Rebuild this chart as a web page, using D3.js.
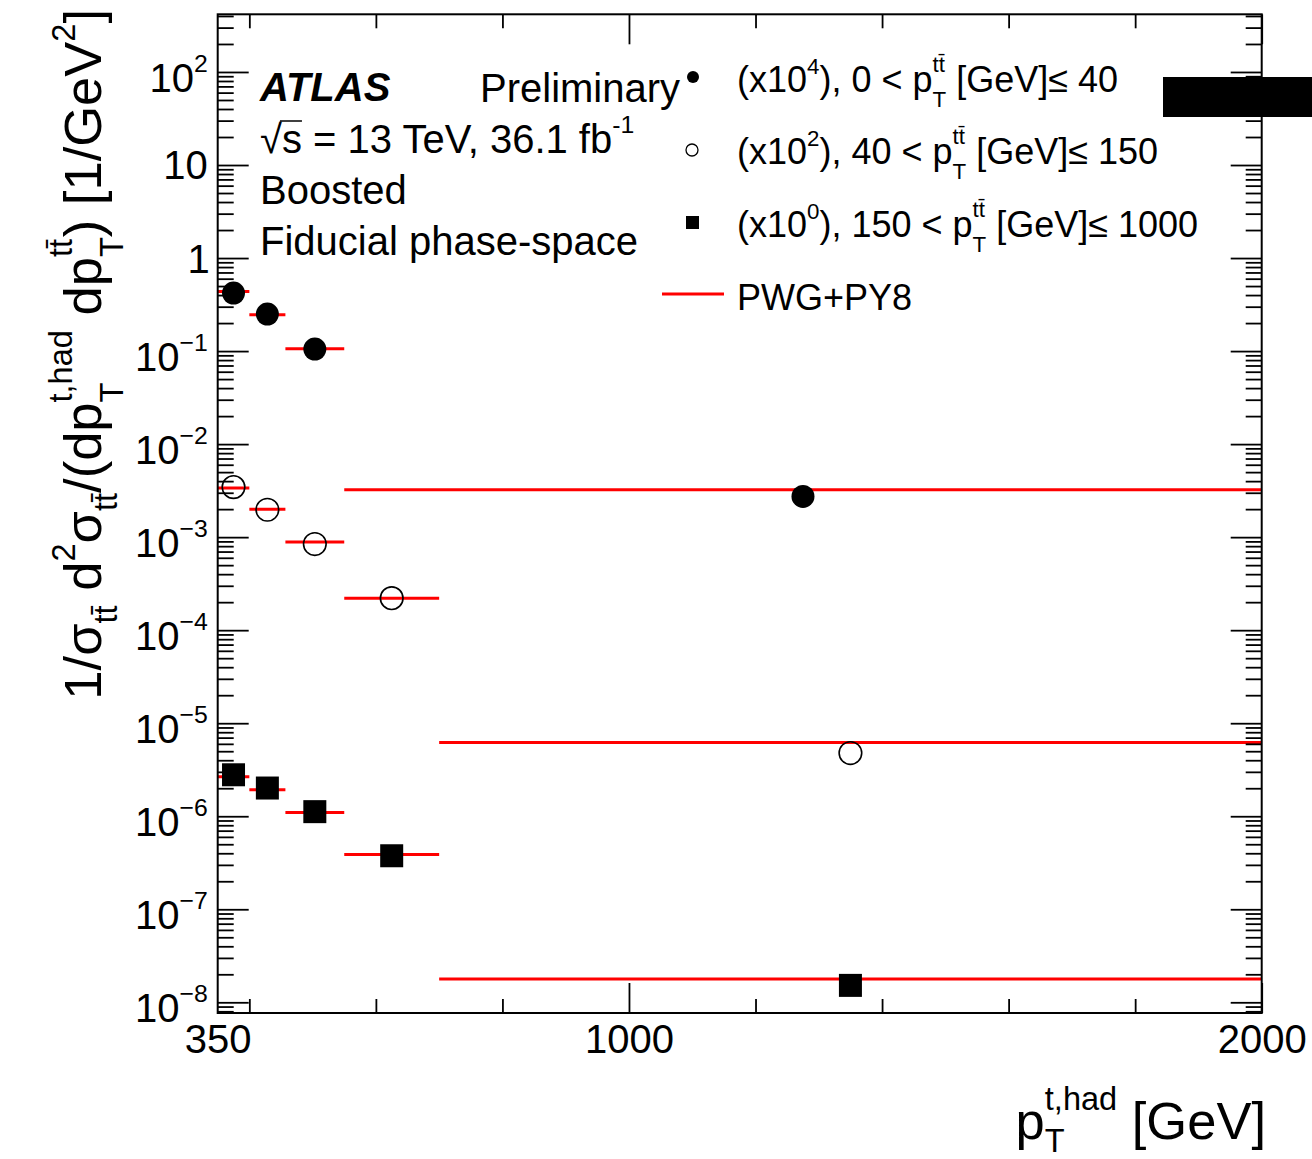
<!DOCTYPE html>
<html>
<head>
<meta charset="utf-8">
<script src="https://cdn.jsdelivr.net/npm/d3@7"></script>
<style>
  body { margin: 0; background: #fff; }
  svg { display: block; font-family: "Liberation Sans", Arial, Helvetica, sans-serif; }
  text { white-space: pre; }
</style>
</head>
<body>
<svg id="chart"></svg>
<script>
// bin edges in pT(t,had) [GeV], one set per pT(ttbar) slice
const edgesLow = [350, 400, 457, 550, 2000]
const edgesMid = [350, 400, 457, 550, 700, 2000]
const edgesHigh = [350, 400, 457, 550, 700, 2000]
const scaleFactors = [1e4, 1e2, 1]

// measured (data) and PWG+PY8 prediction, unscaled [1/GeV^2]
const dataLow = [4.2e-5, 2.5e-5, 1.05e-5, 2.74e-7]
const modelLow = [4.37e-5, 2.46e-5, 1.06e-5, 3.23e-7]
const dataMid = [3.45e-5, 1.97e-5, 8.43e-6, 2.21e-6, 4.78e-8]
const modelMid = [3.37e-5, 2.0e-5, 8.85e-6, 2.21e-6, 6.2e-8]
const dataHigh = [2.79e-6, 2.01e-6, 1.12e-6, 3.76e-7, 1.52e-8]
const modelHigh = [2.66e-6, 1.93e-6, 1.10e-6, 3.88e-7, 1.78e-8]

// axis ticks
const xLabels = [350, 1000, 2000]
const xMajor = [1000, 2000]
const xMinor = [400, 600, 800, 1200, 1400, 1600, 1800]
const yDecades = [-8, -7, -6, -5, -4, -3, -2, -1, 0, 1, 2]

const width = 1312, height = 1159
const margin = { top: 14.3, right: 50.3, bottom: 146, left: 217.7 }
const w = width - margin.left - margin.right
const h = height - margin.top - margin.bottom

const svg = d3.select('#chart').attr('width', width).attr('height', height)
const chart = svg.append('g').attr('transform', `translate(${margin.left},${margin.top})`)

const x = d3.scaleLinear().domain([350, 2000]).range([0, w])
const y = d3.scaleLog().domain([Math.pow(10, -8.115), Math.pow(10, 2.62)]).range([h, 0])

// text with super/subscripts, laid out by measuring each piece
const kinds = {
  n: { fs: 1, dy: 0 },
  sup: { fs: 0.62, dy: -0.5 },
  sub: { fs: 0.62, dy: 0.3 },
  ssub: { fs: 0.62, dy: 0.42 },
  ssubx: { fs: 0.62, dy: 0.25 },
  ssup: { fs: 0.62, dy: -0.55 }
}
function rich(parent, px, py, segs, size, opt = {}) {
  const g = parent.append('g').attr('transform', `translate(${px},${py}) rotate(${opt.rotate || 0})`)
  const inner = g.append('g')
  const t = inner.append('text').style('font-size', size + 'px').attr('fill', '#000')
  if (opt.weight) t.style('font-weight', opt.weight)
  if (opt.italic) t.style('font-style', 'italic')
  let cx = 0, stackX = 0
  segs.forEach(([str, kind, over]) => {
    const k = kinds[kind || 'n']
    const x0 = kind === 'ssup' ? stackX : cx
    const el = t.append('tspan')
      .attr('x', x0).attr('y', size * k.dy)
      .style('font-size', size * k.fs + 'px')
      .text(str)
    const len = el.node().getComputedTextLength()
    if (over) {
      inner.append('line')
        .attr('x1', x0 - 2).attr('x2', x0 + len)
        .attr('y1', -size * 0.8).attr('y2', -size * 0.8)
        .attr('stroke', '#000').attr('stroke-width', 1.5)
    }
    if (kind === 'ssub' || kind === 'ssubx') { stackX = cx; cx += len }
    else if (kind === 'ssup') cx = Math.max(cx, stackX + len)
    else cx += len
  })
  const shift = opt.anchor === 'end' ? -cx : opt.anchor === 'middle' ? -cx / 2 : 0
  inner.attr('transform', `translate(${shift},0)`)
  return cx
}

// ---- series ----
const series = [
  { edges: edgesLow, data: dataLow, model: modelLow, scale: scaleFactors[0], marker: 'dot' },
  { edges: edgesMid, data: dataMid, model: modelMid, scale: scaleFactors[1], marker: 'ring' },
  { edges: edgesHigh, data: dataHigh, model: modelHigh, scale: scaleFactors[2], marker: 'square' }
]

const lines = chart.append('g').attr('class', 'model')
series.forEach(s => {
  lines.selectAll(null)
    .data(s.model.map((v, i) => ({ x0: s.edges[i], x1: s.edges[i + 1], v: v * s.scale })))
    .enter().append('line')
    .attr('x1', d => x(d.x0)).attr('x2', d => x(d.x1))
    .attr('y1', d => y(d.v)).attr('y2', d => y(d.v))
    .attr('stroke', '#ff0000').attr('stroke-width', 3)
})

const pts = chart.append('g').attr('class', 'data')
series.forEach(s => {
  const d = s.data.map((v, i) => ({ cx: x((s.edges[i] + s.edges[i + 1]) / 2), cy: y(v * s.scale) }))
  if (s.marker === 'square') {
    pts.selectAll(null).data(d).enter().append('rect')
      .attr('x', p => p.cx - 11.5).attr('y', p => p.cy - 11.5)
      .attr('width', 23).attr('height', 23).attr('fill', '#000')
  } else {
    pts.selectAll(null).data(d).enter().append('circle')
      .attr('cx', p => p.cx).attr('cy', p => p.cy)
      .attr('r', s.marker === 'dot' ? 11.5 : 11.3)
      .attr('fill', s.marker === 'dot' ? '#000' : 'none')
      .attr('stroke', '#000').attr('stroke-width', s.marker === 'dot' ? 0 : 1.6)
  }
})

// ---- axes (ROOT style, ticks pointing inward) ----
const yMinor = []
yDecades.concat([-9]).forEach(n => {
  for (let m = 2; m <= 9; m++) {
    const v = m * Math.pow(10, n)
    if (v > y.domain()[0] && v < y.domain()[1]) yMinor.push(v)
  }
})
const yMajor = yDecades.map(n => Math.pow(10, n))

function tickAxis(axis, tr) {
  const g = chart.append('g').attr('transform', tr || null).call(axis)
  g.select('.domain').remove()
  g.selectAll('.tick line').attr('stroke', '#000').attr('stroke-width', 1.8)
  return g
}
tickAxis(d3.axisBottom(x).tickValues(xMinor).tickSizeInner(-14).tickSizeOuter(0).tickFormat(''), `translate(0,${h})`)
tickAxis(d3.axisBottom(x).tickValues(xMajor).tickSizeInner(-30).tickSizeOuter(0).tickFormat(''), `translate(0,${h})`)
tickAxis(d3.axisTop(x).tickValues(xMinor).tickSizeInner(-14).tickSizeOuter(0).tickFormat(''))
tickAxis(d3.axisTop(x).tickValues(xMajor).tickSizeInner(-30).tickSizeOuter(0).tickFormat(''))
tickAxis(d3.axisLeft(y).tickValues(yMinor).tickSizeInner(-16).tickSizeOuter(0).tickFormat(''))
tickAxis(d3.axisLeft(y).tickValues(yMajor).tickSizeInner(-31).tickSizeOuter(0).tickFormat(''))
tickAxis(d3.axisRight(y).tickValues(yMinor).tickSizeInner(-16).tickSizeOuter(0).tickFormat(''), `translate(${w},0)`)
tickAxis(d3.axisRight(y).tickValues(yMajor).tickSizeInner(-31).tickSizeOuter(0).tickFormat(''), `translate(${w},0)`)

// x labels
const xl = tickAxis(d3.axisBottom(x).tickValues(xLabels).tickSize(0).tickPadding(0).tickFormat(d3.format('d')), `translate(0,${h})`)
xl.selectAll('.tick text')
  .attr('y', 40).attr('dy', 0)
  .style('font-size', '40px').style('font-family', null).attr('fill', '#000')

// y labels with exponents
yDecades.forEach(n => {
  const ty = y(Math.pow(10, n))
  if (n === 0) rich(chart, -8, ty + 15, [['1']], 40, { anchor: 'end' })
  else if (n === 1) rich(chart, -10, ty + 14, [['10']], 40, { anchor: 'end' })
  else rich(chart, -10, ty + 20, [['10'], [n < 0 ? '\u2212' + (-n) : String(n), 'sup']], 40, { anchor: 'end' })
})

// frame
chart.append('rect')
  .attr('width', w).attr('height', h)
  .attr('fill', 'none').attr('stroke', '#000').attr('stroke-width', 2)

// ---- axis titles ----
rich(svg, 1266, 1139, [['p'], ['T', 'ssubx'], ['t,had', 'ssup'], [' [GeV]']], 52.5, { anchor: 'end' })
rich(svg, 101, 9, [
  ['1/\u03c3'], ['tt\u0304', 'sub'], [' d'], ['2', 'sup'], ['\u03c3'], ['tt\u0304', 'sub'],
  ['/(dp'], ['T', 'ssub'], ['t,had', 'ssup'], [' dp'], ['T', 'ssub'], ['tt\u0304', 'ssup'],
  [') [1/GeV'], ['2', 'sup'], [']']
], 52.5, { rotate: -90, anchor: 'end' })

// ---- labels ----
rich(svg, 260, 101, [['ATLAS']], 40, { weight: 'bold', italic: true })
rich(svg, 480, 102, [['Preliminary']], 40)
rich(svg, 260, 153, [['\u221a'], ['s', 'n', true], [' = 13 TeV, 36.1 fb'], ['-1', 'sup']], 40)
rich(svg, 260, 204, [['Boosted']], 40)
rich(svg, 260, 255, [['Fiducial phase-space']], 40)

// ---- legend ----
const legendRows = [
  { exp: '4', range: ['0 < p', ' [GeV]\u2264 40'], y: 92 },
  { exp: '2', range: ['40 < p', ' [GeV]\u2264 150'], y: 164 },
  { exp: '0', range: ['150 < p', ' [GeV]\u2264 1000'], y: 237 }
]
const leg = svg.append('g')
leg.append('circle').attr('cx', 693).attr('cy', 77).attr('r', 6).attr('fill', '#000')
leg.append('circle').attr('cx', 692).attr('cy', 150).attr('r', 6).attr('fill', 'none').attr('stroke', '#000').attr('stroke-width', 1.3)
leg.append('rect').attr('x', 686).attr('y', 216).attr('width', 13).attr('height', 13).attr('fill', '#000')
leg.append('line').attr('x1', 662).attr('x2', 724).attr('y1', 294).attr('y2', 294).attr('stroke', '#ff0000').attr('stroke-width', 3)
legendRows.forEach(r => {
  rich(leg, 737, r.y, [['(x10'], [r.exp, 'sup'], ['), ' + r.range[0]], ['T', 'ssub'], ['tt\u0304', 'ssup'], [r.range[1]]], 36)
})
rich(leg, 737, 310, [['PWG+PY8']], 36)

// black box at the top right edge of the figure
svg.append('rect').attr('x', 1163).attr('y', 77).attr('width', 149).attr('height', 40).attr('fill', '#000')
</script>
</body>
</html>
